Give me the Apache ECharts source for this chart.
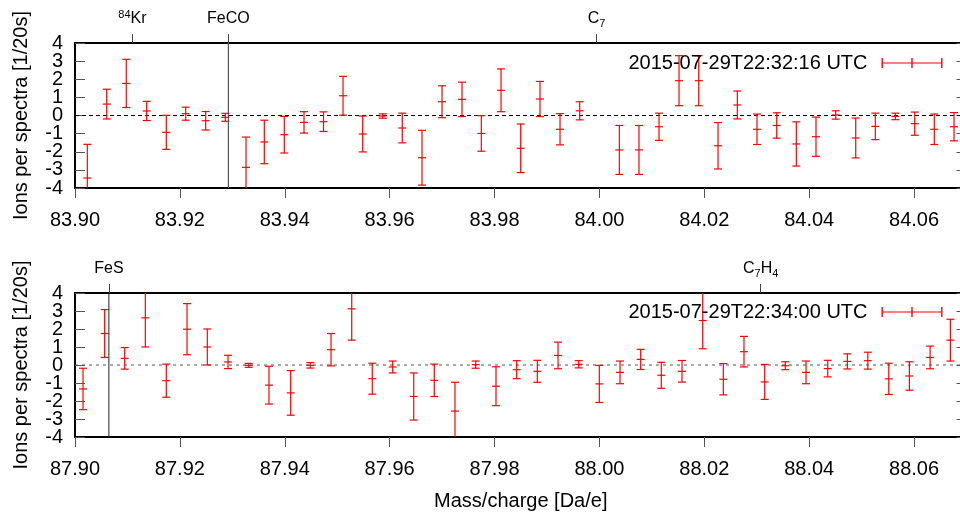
<!DOCTYPE html>
<html>
<head>
<meta charset="utf-8">
<script src="https://cdn.jsdelivr.net/npm/echarts@6/dist/echarts.min.js"></script>
<style>html,body{margin:0;padding:0;background:#fff}#c{width:960px;height:513px}</style>
</head>
<body>
<div id="c"></div>
<script>
// ---------- data ----------
const topName = '2015-07-29T22:32:16 UTC';
const botName = '2015-07-29T22:34:00 UTC';

const topX = [83.90235,83.90605,83.90978,83.91367,83.91741,83.92111,83.92492,83.92866,83.93261,83.93610,
  83.93991,83.94367,83.94739,83.95111,83.95486,83.95868,83.96241,83.96617,83.96999,83.97380,
  83.97748,83.98124,83.98499,83.98867,83.99249,83.99624,84.00380,84.00755,84.01137,84.01518,
  84.01894,84.02262,84.02630,84.03005,84.03381,84.03755,84.04130,84.04506,84.04888,84.05261,
  84.05643,84.06013,84.06386,84.06762];
const topY = [-3.45,0.63,1.77,0.25,-0.93,0.10,-0.29,-0.10,-2.86,-1.46,
  -1.06,-0.38,-0.34,1.09,-1.02,-0.03,-0.69,-2.33,0.76,0.89,
  -0.99,1.39,-1.81,0.91,-0.76,0.26,-1.90,-1.90,-0.62,1.92,
  1.92,-1.67,0.58,-0.76,-0.55,-1.57,-1.17,0.03,-1.24,-0.60,
  -0.05,-0.45,-0.76,-0.62];
const topErr = [1.86,0.82,1.33,0.53,0.94,0.36,0.51,0.22,1.67,1.20,
  1.01,0.59,0.54,1.07,0.99,0.12,0.82,1.51,0.88,0.95,
  0.98,1.18,1.34,0.97,0.86,0.50,1.35,1.35,0.75,1.38,
  1.38,1.28,0.77,0.84,0.70,1.22,1.08,0.23,1.10,0.73,
  0.18,0.64,0.84,0.78];

const botX = [87.90153,87.90566,87.90948,87.91341,87.91741,87.92136,87.92523,87.92918,87.93312,87.93699,
  87.94113,87.94487,87.94882,87.95277,87.95669,87.96058,87.96459,87.96851,87.97246,87.97641,
  87.98028,87.98423,87.98816,87.99211,87.99605,87.99998,88.00393,88.00787,88.01180,88.01575,
  88.01970,88.02363,88.02757,88.03152,88.03545,88.03940,88.04354,88.04728,88.05118,88.05518,
  88.05911,88.06306,88.06693];
const botY = [-1.33,1.75,0.37,2.62,-0.87,1.99,1.00,0.17,-0.02,-1.12,
  -1.55,-0.02,0.85,3.12,-0.76,-0.11,-1.75,-0.85,-2.56,0.02,
  -1.18,-0.26,-0.35,0.53,0.04,-1.05,-0.41,0.31,-0.57,-0.35,
  2.47,-0.79,0.74,-0.94,-0.04,-0.41,-0.20,0.20,0.24,-0.77,
  -0.61,0.42,1.38];
const botErr = [1.15,1.33,0.60,1.62,0.92,1.42,1.00,0.37,0.11,1.05,
  1.24,0.15,0.90,1.74,0.86,0.33,1.31,0.90,1.60,0.20,
  1.08,0.50,0.61,0.74,0.20,1.03,0.63,0.56,0.72,0.60,
  1.57,0.87,0.85,0.97,0.22,0.63,0.46,0.42,0.47,0.87,
  0.79,0.63,1.16];

const topRange = [83.90, 84.07];
const botRange = [87.90, 88.07];
const yRange = [-4, 4];
const yTicksEven = [-4, -2, 0, 2, 4];
const yTicksOdd = [-3, -1, 1, 3];

// annotations (m/z of singly charged ions)
const topAnnotMass = [83.91095, 83.92925, 83.99945];
const topAnnotText = ['{sup|84}{n|Kr}', '{n|FeCO}', '{n|C}{sub|7}'];
const topLineMass = 83.92925;   // FeCO full-height marker
const botAnnotMass = [87.90646, 88.03075];
const botAnnotText = ['{n|FeS}', '{n|C}{sub|7}{n|H}{sub|4}'];
const botLineMass = 87.90646;   // FeS full-height marker

const xName = 'Mass/charge [Da/e]';
const yName = 'Ions per spectra [1/20s]';

// ---------- chart ----------
const FONT = 'Liberation Sans, Arial, Helvetica, sans-serif';
const RED = '#ff0000';
const chart = echarts.init(document.getElementById('c'), null, {renderer: 'canvas'});

function renderErr(params, api) {
  const x = api.value(0), y = api.value(1), e = api.value(2);
  const c = api.coord([x, y]);
  const hi = api.coord([x, y + e]);
  const lo = api.coord([x, y - e]);
  const hw = 4;
  const st = {stroke: RED, lineWidth: 1.2};
  return {type: 'group', children: [
    {type: 'line', shape: {x1: c[0], y1: hi[1], x2: c[0], y2: lo[1]}, style: st},
    {type: 'line', shape: {x1: c[0] - hw, y1: hi[1], x2: c[0] + hw, y2: hi[1]}, style: st},
    {type: 'line', shape: {x1: c[0] - hw, y1: lo[1], x2: c[0] + hw, y2: lo[1]}, style: st},
    {type: 'line', shape: {x1: c[0] - hw, y1: c[1], x2: c[0] + hw, y2: c[1]}, style: st}
  ]};
}

const rich = {
  n: {fontSize: 16, fontFamily: FONT, color: '#000', lineHeight: 20},
  sup: {fontSize: 11, fontFamily: FONT, color: '#000', lineHeight: 10, verticalAlign: 'top'},
  sub: {fontSize: 11, fontFamily: FONT, color: '#000', lineHeight: 10, verticalAlign: 'bottom'}
};

function annotFormatter(masses, texts) {
  return function (v) {
    for (let i = 0; i < masses.length; i++) {
      if (Math.abs(masses[i] - v) < 1e-7) return texts[i];
    }
    return '';
  };
}

function bottomX(grid, range, withName) {
  const a = {
    type: 'value', gridIndex: grid, position: 'bottom', min: range[0], max: range[1], interval: 0.02,
    axisLine: {show: true, onZero: false, lineStyle: {color: '#000', width: 2}},
    axisTick: {show: true, inside: false, length: 10, lineStyle: {color: '#555', width: 1}},
    axisLabel: {fontSize: 20, fontFamily: FONT, color: '#000', margin: 22, showMaxLabel: false,
      showMinLabel: true, hideOverlap: false, formatter: v => v.toFixed(2)},
    splitLine: {show: false}
  };
  if (withName) {
    a.name = xName; a.nameLocation = 'middle'; a.nameGap = 54;
    a.nameTextStyle = {fontSize: 20, fontFamily: FONT, color: '#000'};
  }
  return a;
}
function topXAxis(grid, range, masses, texts) {
  return {
    type: 'value', gridIndex: grid, position: 'top', min: range[0], max: range[1],
    axisLine: {show: true, onZero: false, lineStyle: {color: '#000', width: 2}},
    axisTick: {show: true, inside: false, length: 9, customValues: masses, lineStyle: {color: '#444', width: 1}},
    axisLabel: {show: true, customValues: masses, margin: 14, formatter: annotFormatter(masses, texts), rich: rich},
    splitLine: {show: false}
  };
}
function leftY(grid) {
  return {
    type: 'value', gridIndex: grid, position: 'left', min: yRange[0], max: yRange[1], interval: 1,
    axisLine: {show: true, onZero: false, lineStyle: {color: '#000', width: 2}},
    axisTick: {show: true, inside: true, length: 10, lineStyle: {color: '#555', width: 1}},
    axisLabel: {fontSize: 20, fontFamily: FONT, color: '#000', margin: 12,
      customValues: yTicksEven, hideOverlap: false},
    splitLine: {show: false},
    name: yName, nameLocation: 'middle', nameGap: 44, nameRotate: 90,
    nameTextStyle: {fontSize: 20, fontFamily: FONT, color: '#000'}
  };
}
function leftYOdd(grid) {
  return {
    type: 'value', gridIndex: grid, position: 'left', offset: 0, min: yRange[0], max: yRange[1], interval: 1,
    axisLine: {show: false, onZero: false}, axisTick: {show: false},
    axisLabel: {fontSize: 20, fontFamily: FONT, color: '#000', margin: 12,
      customValues: yTicksOdd, hideOverlap: false},
    splitLine: {show: false}
  };
}
function rightY(grid) {
  return {
    type: 'value', gridIndex: grid, position: 'right', min: yRange[0], max: yRange[1], interval: 1,
    axisLine: {show: true, onZero: false, lineStyle: {color: '#000', width: 2}},
    axisTick: {show: true, inside: true, length: 10, lineStyle: {color: '#555', width: 1}},
    axisLabel: {show: false}, splitLine: {show: false}
  };
}

const ICON = 'path://M0,0h1.4v10h-1.4Z M0,4.4h61v1.2h-61Z M59.6,0h1.4v10h-1.4Z M29.8,0h1.4v10h-1.4Z';

function legend(name, top) {
  return {
    data: [{name: name, icon: ICON}], right: 17.5, top: top, padding: 0, align: 'right',
    itemWidth: 61, itemHeight: 10, selectedMode: false,
    textStyle: {fontSize: 20, fontFamily: FONT, color: '#000', lineHeight: 20, padding: [0, 9, 0, 0]}
  };
}

function toTriples(xs, ys, es) { return xs.map((x, i) => [x, ys[i], es[i]]); }

const option = {
  animation: false,
  backgroundColor: '#fff',
  grid: [
    {left: 75, top: 43, right: -6.5, height: 145, containLabel: false, outerBoundsMode: 'none'},
    {left: 75, top: 293, right: -6.5, height: 144, containLabel: false, outerBoundsMode: 'none'}
  ],
  legend: [legend(topName, 53), legend(botName, 302)],
  xAxis: [
    bottomX(0, topRange, false),
    topXAxis(0, topRange, topAnnotMass, topAnnotText),
    bottomX(1, botRange, true),
    topXAxis(1, botRange, botAnnotMass, botAnnotText)
  ],
  yAxis: [leftY(0), rightY(0), leftYOdd(0), leftY(1), rightY(1), leftYOdd(1)],
  series: [
    {type: 'line', xAxisIndex: 0, yAxisIndex: 0, silent: true, showSymbol: false, symbol: 'none',
      data: [[topRange[0], 0], [topRange[1], 0]], lineStyle: {color: '#000', width: 1, type: [4, 3]}, z: 1},
    {type: 'line', xAxisIndex: 0, yAxisIndex: 0, silent: true, showSymbol: false, symbol: 'none',
      data: [[topLineMass, yRange[0]], [topLineMass, yRange[1]]], lineStyle: {color: '#555', width: 1.2}, z: 1},
    {type: 'custom', name: topName, xAxisIndex: 0, yAxisIndex: 0, renderItem: renderErr, clip: true,
      itemStyle: {color: RED}, encode: {x: 0, y: 1}, data: toTriples(topX, topY, topErr), z: 3},
    {type: 'line', xAxisIndex: 2, yAxisIndex: 3, silent: true, showSymbol: false, symbol: 'none',
      data: [[botRange[0], 0], [botRange[1], 0]], lineStyle: {color: '#555', width: 1, type: [3, 4]}, z: 1},
    {type: 'line', xAxisIndex: 2, yAxisIndex: 3, silent: true, showSymbol: false, symbol: 'none',
      data: [[botLineMass, yRange[0]], [botLineMass, yRange[1]]], lineStyle: {color: '#222', width: 1}, z: 1},
    {type: 'custom', name: botName, xAxisIndex: 2, yAxisIndex: 3, renderItem: renderErr, clip: true,
      itemStyle: {color: RED}, encode: {x: 0, y: 1}, data: toTriples(botX, botY, botErr), z: 3}
  ]
};
chart.setOption(option);
</script>
</body>
</html>
